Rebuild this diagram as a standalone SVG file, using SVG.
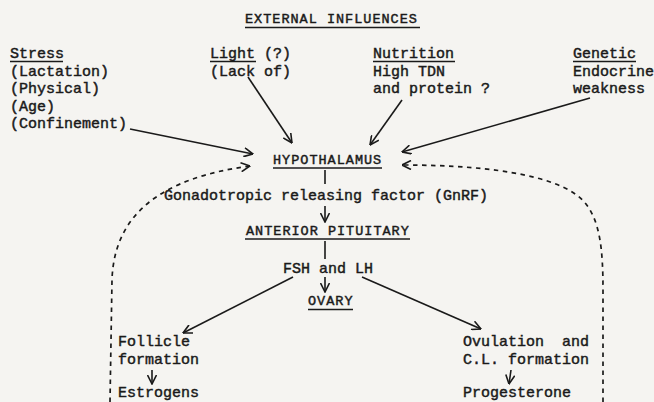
<svg xmlns="http://www.w3.org/2000/svg" width="654" height="402" viewBox="0 0 654 402">
<style>
  text { font-family: "Liberation Mono", "DejaVu Sans Mono", monospace; font-size: 15px; fill: #1a1a1a; stroke: #1a1a1a; stroke-width: 0.45; white-space: pre; }
  text.h { font-size: 13.5px; letter-spacing: 1px; }
  .ul { stroke: #1a1a1a; stroke-width: 1.4; }
  .c { fill: none; stroke: #1a1a1a; stroke-width: 1.6; }
  .d { fill: none; stroke: #1a1a1a; stroke-width: 1.7; stroke-dasharray: 4.5 4.5; }
</style>
<defs>
  <marker id="ah" viewBox="0 0 10 10" refX="9.5" refY="5" markerWidth="10" markerHeight="10" markerUnits="userSpaceOnUse" orient="auto">
    <path d="M0.5,0.5 L9.5,5 L0.5,9.5" fill="none" stroke="#1a1a1a" stroke-width="1.6"/>
  </marker>
</defs>
<rect width="654" height="402" fill="#f5f4f1"/>

<g id="external">
  <text class="h" x="245" y="23">EXTERNAL INFLUENCES</text>
  <line class="ul" x1="245" y1="27.5" x2="420" y2="27.5"/>
</g>
<g id="stress">
  <text x="10" y="58">Stress</text>
  <line class="ul" x1="10" y1="61.5" x2="63" y2="61.5"/>
  <text x="10" y="75.5">(Lactation)</text>
  <text x="10" y="93">(Physical)</text>
  <text x="10" y="110.5">(Age)</text>
  <text x="10" y="128">(Confinement)</text>
</g>
<g id="light">
  <text x="210" y="58">Light (?)</text>
  <line class="ul" x1="210" y1="61.5" x2="256" y2="61.5"/>
  <text x="210" y="75.5">(Lack of)</text>
</g>
<g id="nutrition">
  <text x="373" y="58">Nutrition</text>
  <line class="ul" x1="373" y1="61.5" x2="455" y2="61.5"/>
  <text x="373" y="75.5">High TDN</text>
  <text x="373" y="93">and protein ?</text>
</g>
<g id="genetic">
  <text x="573" y="58">Genetic</text>
  <line class="ul" x1="573" y1="61.5" x2="636" y2="61.5"/>
  <text x="573" y="75.5">Endocrine</text>
  <text x="573" y="93">weakness</text>
</g>
<g id="hypothalamus">
  <text class="h" x="273" y="164">HYPOTHALAMUS</text>
  <line class="ul" x1="273" y1="168" x2="382" y2="168"/>
</g>
<g id="gnrf">
  <text x="164" y="200">Gonadotropic releasing factor (GnRF)</text>
</g>
<g id="pituitary">
  <text class="h" x="246" y="235">ANTERIOR PITUITARY</text>
  <line class="ul" x1="245" y1="239" x2="410" y2="239"/>
</g>
<g id="fshlh">
  <text x="283" y="273">FSH and LH</text>
</g>
<g id="ovary">
  <text class="h" x="308" y="305">OVARY</text>
  <line class="ul" x1="308" y1="309.5" x2="353" y2="309.5"/>
</g>
<g id="follicle">
  <text x="118" y="346">Follicle</text>
  <text x="118" y="363.5">formation</text>
</g>
<g id="estrogens">
  <text x="118" y="397">Estrogens</text>
</g>
<g id="ovulation">
  <text x="463" y="346">Ovulation  and</text>
  <text x="463" y="363.5">C.L. formation</text>
</g>
<g id="progesterone">
  <text x="463" y="397">Progesterone</text>
</g>

<g id="connectors">
  <line class="c" x1="130" y1="129" x2="253" y2="154" marker-end="url(#ah)"/>
  <line class="c" x1="248" y1="77" x2="292" y2="143" marker-end="url(#ah)"/>
  <line class="c" x1="402" y1="100" x2="370" y2="145" marker-end="url(#ah)"/>
  <line class="c" x1="590" y1="98" x2="402" y2="152" marker-end="url(#ah)"/>
  <line class="c" x1="325" y1="170" x2="325" y2="184"/>
  <line class="c" x1="325" y1="206" x2="325" y2="222" marker-end="url(#ah)"/>
  <line class="c" x1="325" y1="241" x2="325" y2="259"/>
  <line class="c" x1="325" y1="277" x2="325" y2="292" marker-end="url(#ah)"/>
  <line class="c" x1="293" y1="277" x2="183" y2="333" marker-end="url(#ah)"/>
  <line class="c" x1="362" y1="277" x2="481" y2="329" marker-end="url(#ah)"/>
  <line class="c" x1="152" y1="370" x2="152" y2="384" marker-end="url(#ah)"/>
  <line class="c" x1="511" y1="370" x2="509" y2="384" marker-end="url(#ah)"/>
  <path class="d" d="M110 402 L112 280 C114 215 160 178 250 166" marker-end="url(#ah)"/>
  <path class="d" d="M603 402 L603 290 C603 250 600 222 586 204 C566 178 500 165 402 165" marker-end="url(#ah)"/>
</g>
</svg>
